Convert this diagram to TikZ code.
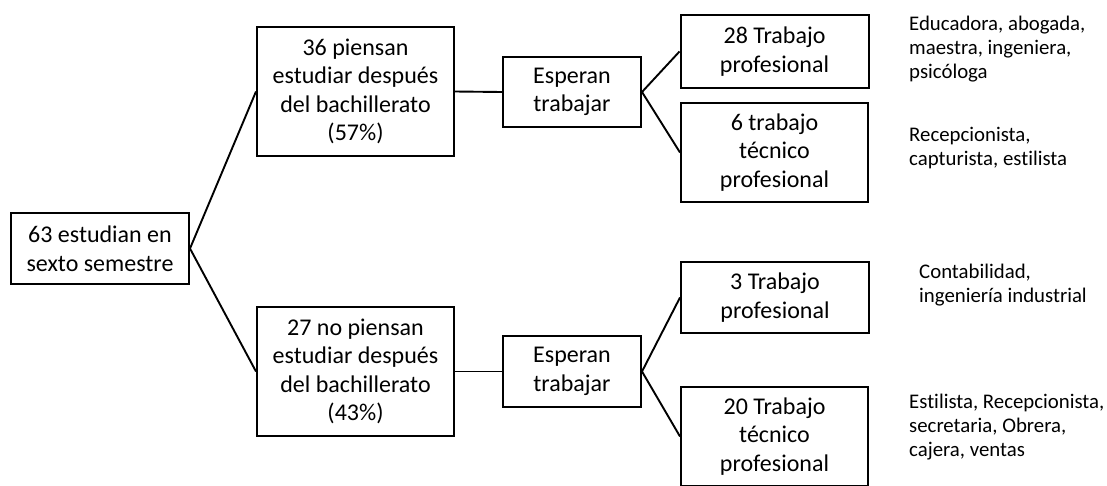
\documentclass[tikz,border=0pt]{standalone}
\usepackage{fontspec}
\setmainfont{Carlito}[Ligatures={NoCommon}]
\begin{document}
\begin{tikzpicture}[x=1pt,y=-1pt,
  box/.style={draw, line width=2pt, rectangle, inner sep=0pt, align=center,
    font=\fontsize{24}{28.5}\selectfont},
  note/.style={anchor=north west, inner sep=0pt, align=left,
    font=\fontsize{20.8}{24}\selectfont},
  link/.style={line width=1.9pt}]
\useasboundingbox (0,0) rectangle (1107,485);
\clip (0,0) rectangle (1107,485);

% root
\node[box, minimum width=178pt, minimum height=71pt] (root) at (100,248.5)
  {63 estudian en\\sexto semestre};

% second level
\node[box, minimum width=197pt, minimum height=129pt] (up) at (355.5,91.5)
  {36 piensan\\estudiar después\\del bachillerato\\(57\%)};
\node[box, minimum width=197pt, minimum height=129pt] (down) at (355.5,371.5)
  {27 no piensan\\estudiar después\\del bachillerato\\(43\%)};

% expectations
\node[box, minimum width=138pt, minimum height=70pt] (espA) at (572,92)
  {Esperan\\trabajar};
\node[box, minimum width=138pt, minimum height=71pt] (espB) at (572,371.5)
  {Esperan\\trabajar};

% outcomes
\node[box, minimum width=188pt, minimum height=73pt] (profA) at (774.5,51.5)
  {28 Trabajo\\profesional};
\node[box, minimum width=187pt, minimum height=99pt] (tecA) at (774.5,152.5)
  {6 trabajo\\técnico\\profesional};
\node[box, minimum width=188pt, minimum height=71pt] (profB) at (775,297.5)
  {3 Trabajo\\profesional};
\node[box, minimum width=187pt, minimum height=99pt] (tecB) at (774.5,436.5)
  {20 Trabajo\\técnico\\profesional};

% occupations
\node[note] (nA) at (909,16) {Educadora, abogada,\\maestra, ingeniera,\\psicóloga};
\node[note] (nB) at (909,127) {Recepcionista,\\capturista, estilista};
\node[note] (nC) at (919,264) {Contabilidad,\\ingeniería industrial};
\node[note] (nD) at (909,394) {Estilista, Recepcionista,\\secretaria, Obrera,\\cajera, ventas};

% connectors
\draw[link] (root.east) -- (up.west);
\draw[link] (root.east) -- (down.west);
\draw[link] (up.east) -- (espA.west);
\draw[link] (down.east) -- (espB.west);
\draw[link] (espA.east) -- (profA.west);
\draw[link] (espA.east) -- (tecA.west);
\draw[link] (espB.east) -- (profB.west);
\draw[link] (espB.east) -- (tecB.west);
\end{tikzpicture}
\end{document}
